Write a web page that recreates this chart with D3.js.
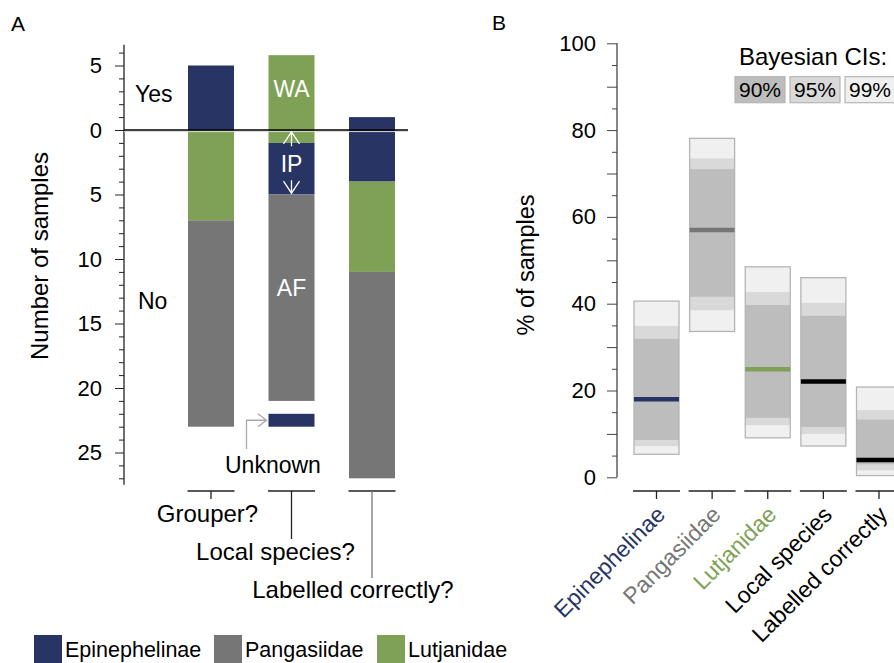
<!DOCTYPE html>
<html>
<head>
<meta charset="utf-8">
<script src="https://cdn.jsdelivr.net/npm/d3@7"></script>
<style>
  body { margin: 0; background: #fff; }
  svg { font-family: "Liberation Sans", Arial, sans-serif; }
</style>
</head>
<body>
<svg id="chart" width="894" height="663"></svg>
<script>
// ---- data, panel A (sample counts; stacks run from the top down) ----
const questions = ["Grouper?", "Local species?", "Labelled correctly?"]
const yesCounts = [5, 5.8, 1]
const grouperStack = [["Epinephelinae", 5], ["Lutjanidae", 7], ["Pangasiidae", 16]]
const localStack = [["Lutjanidae", 6.8], ["Epinephelinae", 4], ["Pangasiidae", 16], [null, 1], ["Epinephelinae", 1]]
const labelledStack = [["Epinephelinae", 5], ["Lutjanidae", 7], ["Pangasiidae", 16]]
const families = ["Epinephelinae", "Pangasiidae", "Lutjanidae"]

// ---- data, panel B (% of samples, Bayesian CIs) ----
const ciCategories = ["Epinephelinae", "Pangasiidae", "Lutjanidae", "Local species", "Labelled correctly"]
const medians = [18.0, 57.0, 24.9, 22.1, 4.0]
const ci90Lo = [8.6, 41.6, 13.7, 11.6, 3.0]
const ci90Hi = [31.9, 71.0, 39.7, 37.2, 13.3]
const ci95Lo = [7.2, 38.5, 12.0, 10.0, 1.6]
const ci95Hi = [34.9, 73.5, 42.7, 40.2, 15.5]
const ci99Lo = [5.3, 33.6, 9.1, 7.2, 0.4]
const ci99Hi = [40.6, 78.1, 48.5, 46.0, 20.8]
const ciLevels = ["90%", "95%", "99%"]

const navy = "#283464", grey = "#767676", green = "#7ea155"
const famColor = { Epinephelinae: navy, Pangasiidae: grey, Lutjanidae: green }
const labelColor = [navy, grey, green, "#000", "#000"]
const ciFill = { "90%": "#bdbdbd", "95%": "#d9d9d9", "99%": "#f0f0f0" }

const svg = d3.select("#chart")

// ================= Panel A =================
const gA = svg.append("g")
svg.append("text").attr("x", 11).attr("y", 31).attr("font-size", 21).text("A")

// negative = "Yes" (above zero), positive = "No" (below zero)
const yA = d3.scaleLinear().domain([0, 25]).range([130, 452.5])
const xA = d3.scalePoint().domain(questions).range([211, 372])
const barWA = 46

// y axis
gA.append("line").attr("x1", 124).attr("x2", 124)
  .attr("y1", yA(-6.6)).attr("y2", yA(27.5)).attr("stroke", "#222").attr("stroke-width", 1.3)

gA.append("g").attr("transform", "translate(124,0)")
  .call(d3.axisLeft(yA).tickValues([-5, 0, 5, 10, 15, 20, 25])
    .tickFormat(d => Math.abs(d)).tickSize(9).tickPadding(13))
  .call(g => g.select(".domain").remove())
  .call(g => g.selectAll("text").attr("font-size", 22).attr("font-family", "Liberation Sans, Arial, sans-serif"))
  .call(g => g.selectAll("line").attr("stroke", "#222"))

gA.append("g").attr("transform", "translate(124,0)")
  .call(d3.axisLeft(yA).tickValues(d3.range(-6, 28).filter(d => d % 5 !== 0))
    .tickFormat("").tickSize(5))
  .call(g => g.select(".domain").remove())
  .call(g => g.selectAll("line").attr("stroke", "#222"))

gA.append("text")
  .attr("transform", "translate(48,256) rotate(-90)")
  .attr("text-anchor", "middle").attr("font-size", 24)
  .text("Number of samples")

// stacked bars
const stacks = [grouperStack, localStack, labelledStack]
const segments = []
stacks.forEach((stack, i) => {
  let pos = -yesCounts[i]
  stack.forEach(([fam, n]) => {
    if (fam) segments.push({ q: questions[i], fam, start: pos, end: pos + n })
    pos += n
  })
})

gA.selectAll("rect.seg")
  .data(segments)
  .enter()
  .append("rect")
  .attr("class", "seg")
  .attr("x", d => xA(d.q) - barWA / 2)
  .attr("width", barWA)
  .attr("y", d => yA(d.start))
  .attr("height", d => yA(d.end) - yA(d.start))
  .attr("fill", d => famColor[d.fam])

// zero line
gA.append("line").attr("x1", 124).attr("x2", 408)
  .attr("y1", yA(0) + 1.6).attr("y2", yA(0) + 1.6).attr("stroke", "#d8d8d8").attr("stroke-width", 1)
gA.append("line").attr("x1", 124).attr("x2", 408)
  .attr("y1", yA(0)).attr("y2", yA(0)).attr("stroke", "#000").attr("stroke-width", 1.4)

// in-bar labels
const cLocal = xA("Local species?")
const white = [["WA", -2.58], ["IP", 3.23], ["AF", 12.84]]
gA.selectAll("text.inbar")
  .data(white)
  .enter()
  .append("text")
  .attr("class", "inbar")
  .attr("x", cLocal)
  .attr("y", d => yA(d[1]))
  .attr("text-anchor", "middle")
  .attr("font-size", 23)
  .attr("fill", "#fff")
  .text(d => d[0])

// IP arrows
const arrow = (g, x, yFrom, yTo, col) => {
  const dir = yTo < yFrom ? 1 : -1
  g.append("path")
    .attr("d", `M${x},${yFrom}V${yTo}M${x - 8},${yTo + dir * 12}L${x},${yTo}L${x + 8},${yTo + dir * 12}`)
    .attr("fill", "none").attr("stroke", col).attr("stroke-width", 1.3)
}
arrow(gA, cLocal, yA(1.25), yA(0.15), "#fff")
arrow(gA, cLocal, yA(3.9), yA(4.9), "#fff")

gA.append("text").attr("x", 135).attr("y", 101.7).attr("font-size", 23).text("Yes")
gA.append("text").attr("x", 138).attr("y", 309.3).attr("font-size", 23).text("No")

// "Unknown" pointer
gA.append("path")
  .attr("d", `M246.5,449V${yA(22.5)}H266M258,${yA(22.5) - 6.5}L266.5,${yA(22.5)}L258,${yA(22.5) + 6.5}`)
  .attr("fill", "none").attr("stroke", "#aaa").attr("stroke-width", 1.3)
gA.append("text").attr("x", 225).attr("y", 472.7).attr("font-size", 23).text("Unknown")

// question labels with brackets
const drop = [499, 539, 578]
const labelDx = [-3.5, -16, -19]
const labelBase = [522, 560, 598]
questions.forEach((q, i) => {
  const c = xA(q)
  gA.append("line").attr("x1", c - 23.5).attr("x2", c + 23.5)
    .attr("y1", 491).attr("y2", 491).attr("stroke", "#222").attr("stroke-width", 1.3)
  gA.append("line").attr("x1", c).attr("x2", c)
    .attr("y1", 491).attr("y2", drop[i])
    .attr("stroke", i === 2 ? "#777" : "#222").attr("stroke-width", 1.3)
  gA.append("text").attr("x", c + labelDx[i]).attr("y", labelBase[i])
    .attr("text-anchor", "middle").attr("font-size", 24).text(q)
})

// legend
const legX = d3.scaleOrdinal().domain(families).range([34, 214, 377])
const leg = gA.selectAll("g.leg").data(families).enter().append("g").attr("class", "leg")
leg.append("rect").attr("x", d => legX(d)).attr("y", 635).attr("width", 28).attr("height", 28)
  .attr("fill", d => famColor[d])
leg.append("text").attr("x", d => legX(d) + 31).attr("y", 657).attr("font-size", 21.5).text(d => d)

// ================= Panel B =================
const gB = svg.append("g")
svg.append("text").attr("x", 492).attr("y", 30).attr("font-size", 21).text("B")

const yB = d3.scaleLinear().domain([0, 100]).range([477.3, 43.3])
const xB = d3.scalePoint().domain(ciCategories).range([656.5, 879])
const barWB = 45

gB.append("line").attr("x1", 617).attr("x2", 617).attr("y1", yB(100)).attr("y2", yB(0))
  .attr("stroke", "#444").attr("stroke-width", 1.3)
gB.append("g").attr("transform", "translate(617,0)")
  .call(d3.axisLeft(yB).tickValues(d3.range(0, 101, 10))
    .tickFormat(d => d % 20 === 0 ? d : "").tickSize(10).tickPadding(11))
  .call(g => g.select(".domain").remove())
  .call(g => g.selectAll("text").attr("font-size", 22).attr("font-family", "Liberation Sans, Arial, sans-serif"))
  .call(g => g.selectAll("line").attr("stroke", "#444"))
gB.append("g").attr("transform", "translate(617,0)")
  .call(d3.axisLeft(yB).tickValues(d3.range(5, 100, 10)).tickFormat("").tickSize(5))
  .call(g => g.select(".domain").remove())
  .call(g => g.selectAll("line").attr("stroke", "#444"))

gB.append("text")
  .attr("transform", "translate(534,265) rotate(-90)")
  .attr("text-anchor", "middle").attr("font-size", 23.5)
  .text("% of samples")

const ciRows = ciCategories.map((c, i) => ({
  c, i, med: medians[i],
  bands: [["99%", ci99Lo[i], ci99Hi[i]], ["95%", ci95Lo[i], ci95Hi[i]], ["90%", ci90Lo[i], ci90Hi[i]]]
}))

const bar = gB.selectAll("g.ci").data(ciRows).enter().append("g").attr("class", "ci")
bar.selectAll("rect.band")
  .data(d => d.bands.map(b => ({ c: d.c, lev: b[0], lo: b[1], hi: b[2] })))
  .enter()
  .append("rect")
  .attr("class", "band")
  .attr("x", d => xB(d.c) - barWB / 2)
  .attr("width", barWB)
  .attr("y", d => yB(d.hi))
  .attr("height", d => yB(d.lo) - yB(d.hi))
  .attr("fill", d => ciFill[d.lev])
bar.append("rect")
  .attr("x", d => xB(d.c) - barWB / 2)
  .attr("width", barWB)
  .attr("y", d => yB(ci99Hi[d.i]))
  .attr("height", d => yB(ci99Lo[d.i]) - yB(ci99Hi[d.i]))
  .attr("fill", "none").attr("stroke", "#b5b5b5").attr("stroke-width", 1.3)
bar.append("line")
  .attr("x1", d => xB(d.c) - barWB / 2).attr("x2", d => xB(d.c) + barWB / 2)
  .attr("y1", d => yB(d.med)).attr("y2", d => yB(d.med))
  .attr("stroke", d => labelColor[d.i] === "#000" ? "#000" : labelColor[d.i])
  .attr("stroke-width", 4.5)

// x axis segments and rotated labels
ciCategories.forEach((c, i) => {
  const x = xB(c)
  gB.append("line").attr("x1", x - 23.5).attr("x2", x + 23.5).attr("y1", 491).attr("y2", 491)
    .attr("stroke", "#222").attr("stroke-width", 1.3)
  gB.append("line").attr("x1", x).attr("x2", x).attr("y1", 491).attr("y2", 499)
    .attr("stroke", "#222").attr("stroke-width", 1.3)
  gB.append("text")
    .attr("transform", `translate(${x + 10},${516}) rotate(-45)`)
    .attr("text-anchor", "end").attr("font-size", 23)
    .attr("fill", labelColor[i]).text(c)
})

// CI legend
gB.append("text").attr("x", 739).attr("y", 65).attr("font-size", 24).text("Bayesian CIs:")
const ciLegX = d3.scalePoint().domain(ciLevels).range([735, 845])
const cl = gB.selectAll("g.cileg").data(ciLevels).enter().append("g").attr("class", "cileg")
cl.append("rect").attr("x", d => ciLegX(d)).attr("y", 76.7).attr("width", 50).attr("height", 26)
  .attr("fill", d => ciFill[d]).attr("stroke", "#b5b5b5").attr("stroke-width", 1.2)
cl.append("text").attr("x", d => ciLegX(d) + 25).attr("y", 96.7).attr("text-anchor", "middle")
  .attr("font-size", 21).text(d => d)
</script>
</body>
</html>
